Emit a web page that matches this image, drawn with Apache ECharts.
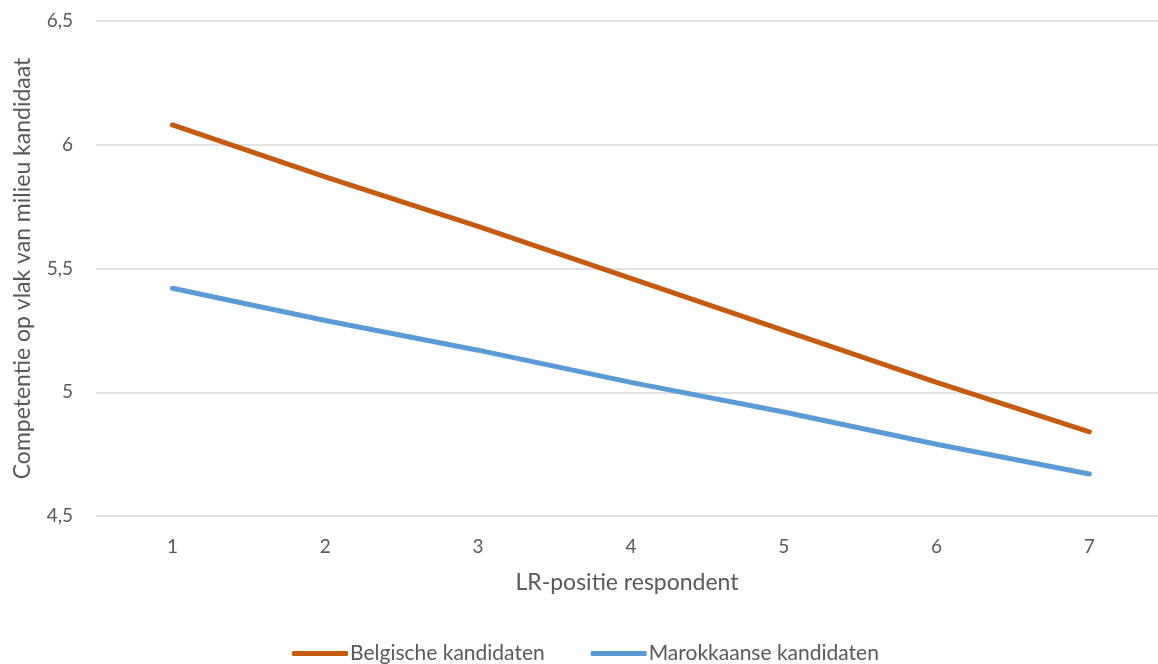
<!DOCTYPE html>
<html><head><meta charset="utf-8">
<script src="https://cdn.jsdelivr.net/npm/echarts@6/dist/echarts.min.js"></script>
<style>html,body{margin:0;padding:0;background:#fff}#c{width:1158px;height:664px}</style>
</head><body><div id="c"></div>
<script>
const categories = [1, 2, 3, 4, 5, 6, 7];
const belgisch = [6.08, 5.87, 5.67, 5.46, 5.25, 5.04, 4.84];
const marokkaans = [5.42, 5.29, 5.17, 5.04, 4.92, 4.79, 4.67];
const yTicks = [4.5, 5, 5.5, 6, 6.5];
const seriesNames = ['Belgische kandidaten', 'Marokkaanse kandidaten'];
const FONT = 'Lato';
const pair = arr => categories.map((c, i) => [c, arr[i]]);
const chart = echarts.init(document.getElementById('c'));
chart.setOption({
  animation: false,
  textStyle: {fontFamily: FONT},
  grid: {left: 96, right: 0, top: 21, height: 495},
  legend: {
    top: 638, left: 287, itemWidth: 56, itemHeight: 5, itemGap: 46,
    icon: 'roundRect',
    textStyle: {fontFamily: FONT, fontSize: 21, color: '#595959', padding: [0,0,0,-3]},
    data: seriesNames
  },
  xAxis: {
    type: 'value', min: 0.5, max: 7.449,
    name: 'LR-positie respondent', nameLocation: 'middle', nameGap: 55,
    nameTextStyle: {fontFamily: FONT, fontSize: 23, color: '#595959', align: 'center'},
    axisLine: {show: false}, axisTick: {show: false}, splitLine: {show: false},
    axisLabel: {fontFamily: FONT, fontSize: 19, color: '#595959', margin: 21,
      customValues: categories, showMinLabel: true, showMaxLabel: true}
  },
  yAxis: {
    type: 'value', min: 4.5, max: 6.5, interval: 0.5,
    name: 'Competentie op vlak van milieu kandidaat', nameLocation: 'middle', nameGap: 62,
    nameTextStyle: {fontFamily: FONT, fontSize: 23, color: '#595959'},
    axisLine: {show: false}, axisTick: {show: false},
    axisLabel: {fontFamily: FONT, fontSize: 19, color: '#595959', margin: 23,
      customValues: yTicks, formatter: v => String(v).replace('.', ',')},
    splitLine: {lineStyle: {color: '#D9D9D9', width: 1.5}}
  },
  series: [
    {name: seriesNames[0], type: 'line', data: pair(belgisch), symbol: 'none',
      lineStyle: {color: '#C55A11', width: 5, cap: 'round'}, itemStyle: {color: '#C55A11'}},
    {name: seriesNames[1], type: 'line', data: pair(marokkaans), symbol: 'none',
      lineStyle: {color: '#5B9BD5', width: 5, cap: 'round'}, itemStyle: {color: '#5B9BD5'}}
  ]
});
</script></body></html>
